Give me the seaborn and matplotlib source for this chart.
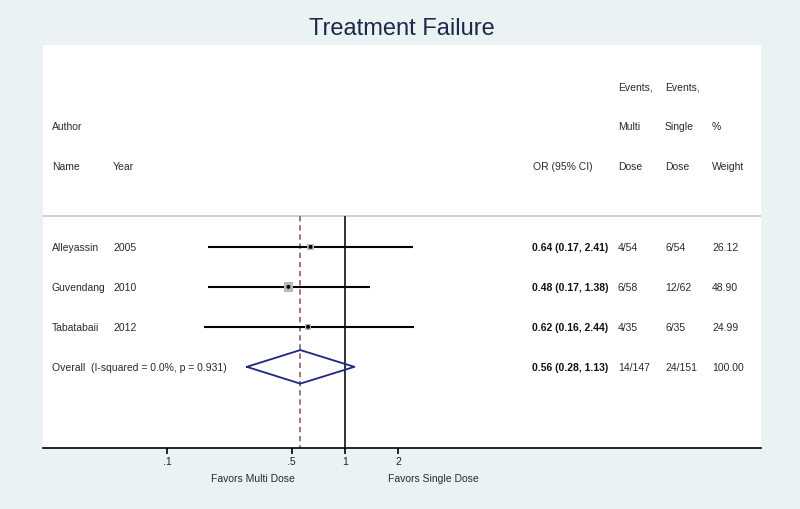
import numpy as np
import pandas as pd
import seaborn as sns
import matplotlib.pyplot as plt
import matplotlib.transforms as mtransforms

# data
authors = ['Alleyassin', 'Guvendang', 'Tabatabaii']
years = ['2005', '2010', '2012']
odds = [0.64, 0.48, 0.62]
ci_low = [0.17, 0.17, 0.16]
ci_high = [2.41, 1.38, 2.44]
events_multi = ['4/54', '6/58', '4/35']
events_single = ['6/54', '12/62', '6/35']
weights = [26.12, 48.90, 24.99]

overall_or = 0.56
overall_low = 0.28
overall_high = 1.13
overall_multi = '14/147'
overall_single = '24/151'
overall_weight = 100.00
overall_label = 'Overall  (I-squared = 0.0%, p = 0.931)'

tick_vals = [0.1, 0.5, 1, 2]
tick_labels = ['.1', '.5', '1', '2']

df = pd.DataFrame({'author': authors, 'year': years, 'or': odds,
                   'lo': ci_low, 'hi': ci_high, 'w': weights})
df['row'] = np.arange(1, len(df) + 1)

sns.set_theme(style='white')
plt.rcParams['font.family'] = ['Liberation Sans', 'DejaVu Sans']

bg = '#EAF2F4'
fig = plt.figure(figsize=(8, 5.1), dpi=100, facecolor=bg)
ax = fig.add_axes([43 / 800, 61 / 510, 718 / 800, 403 / 510])
ax.set_facecolor('white')

ax.set_xscale('log')
ax.set_xlim(10 ** (-302 / 177.6), 10 ** (416 / 177.6))
ax.set_ylim(6.03, -4.05)

# separator under header
ax.axhline(0.225, color='#c8c8c8', lw=1.2)

# null line and overall line
ax.vlines(1, 0.225, 6.03, color='#222222', lw=1.3)
ax.vlines(overall_or, 0.225, 6.03, color='#8a4b5c', lw=1.1, linestyles=(0, (3.5, 2.5)))

# confidence intervals
ax.hlines(df['row'], df['lo'], df['hi'], color='black', lw=1.5)

# weighted squares + point estimate
sns.scatterplot(data=df, x='or', y='row', size='w', sizes=(22, 45), marker='s',
                color='#b8b8b8', edgecolor='none', legend=False, ax=ax, zorder=3)
sns.scatterplot(data=df, x='or', y='row', s=8, color='black', edgecolor='none',
                legend=False, ax=ax, zorder=4)

# overall diamond
orow = len(df) + 1
dx = [overall_low, overall_or, overall_high, overall_or, overall_low]
dy = [orow, orow - 0.42, orow, orow + 0.42, orow]
ax.plot(dx, dy, color='#1f2680', lw=1.3)

# text columns (x in axes fraction, y in rows)
tr = mtransforms.blended_transform_factory(ax.transAxes, ax.transData)
def col(px):
    return (px - 43) / 718

fs = 7.5
tc = '#2a2a2a'
heads = [
    (52, -2.03, 'Author'), (52, -1.03, 'Name'), (113, -1.03, 'Year'),
    (533, -1.03, 'OR (95% CI)'),
    (618, -3.0, 'Events,'), (618, -2.03, 'Multi'), (618, -1.03, 'Dose'),
    (665, -3.0, 'Events,'), (665, -2.03, 'Single'), (665, -1.03, 'Dose'),
    (712, -2.03, '%'), (712, -1.03, 'Weight'),
]
for px, r, t in heads:
    ax.text(col(px), r, t, transform=tr, fontsize=fs, color=tc, va='center')

for i, d in df.iterrows():
    r = d['row']
    ax.text(col(52), r, d['author'], transform=tr, fontsize=fs, color=tc, va='center')
    ax.text(col(113), r, d['year'], transform=tr, fontsize=fs, color=tc, va='center')
    ax.text(col(532), r, f"{d['or']:.2f} ({d['lo']:.2f}, {d['hi']:.2f})", transform=tr,
            fontsize=fs, color='#111111', va='center', fontweight='semibold')
    ax.text(col(618), r, events_multi[i], transform=tr, fontsize=fs, color=tc, va='center')
    ax.text(col(665), r, events_single[i], transform=tr, fontsize=fs, color=tc, va='center')
    ax.text(col(712), r, f"{d['w']:.2f}", transform=tr, fontsize=fs, color=tc, va='center')

ax.text(col(52), orow, overall_label, transform=tr, fontsize=fs, color=tc, va='center')
ax.text(col(532), orow, f"{overall_or:.2f} ({overall_low:.2f}, {overall_high:.2f})", transform=tr,
        fontsize=fs, color='#111111', va='center', fontweight='semibold')
ax.text(col(618), orow, overall_multi, transform=tr, fontsize=fs, color=tc, va='center')
ax.text(col(665), orow, overall_single, transform=tr, fontsize=fs, color=tc, va='center')
ax.text(col(712), orow, f"{overall_weight:.2f}", transform=tr, fontsize=fs, color=tc, va='center')

# axis styling
for s in ['top', 'left', 'right']:
    ax.spines[s].set_visible(False)
ax.spines['bottom'].set_color('black')
ax.spines['bottom'].set_linewidth(1.2)
ax.set_yticks([])
ax.set_xticks(tick_vals)
ax.set_xticklabels(tick_labels)
ax.minorticks_off()
ax.tick_params(axis='x', which='major', bottom=True, direction='out', length=4,
               width=1.2, color='black', labelsize=fs, labelcolor='#222222', pad=2)
ax.set_xlabel('')
ax.set_ylabel('')

fig.text(253 / 800, 1 - 479 / 510, 'Favors Multi Dose', ha='center', va='center',
         fontsize=fs, color=tc)
fig.text(433 / 800, 1 - 479 / 510, 'Favors Single Dose', ha='center', va='center',
         fontsize=fs, color=tc)

fig.text(402 / 800, 1 - 29 / 510, 'Treatment Failure', ha='center', va='center',
         fontsize=17, color='#1c2a48')

fig.savefig('out.png', dpi=100, facecolor=bg)
